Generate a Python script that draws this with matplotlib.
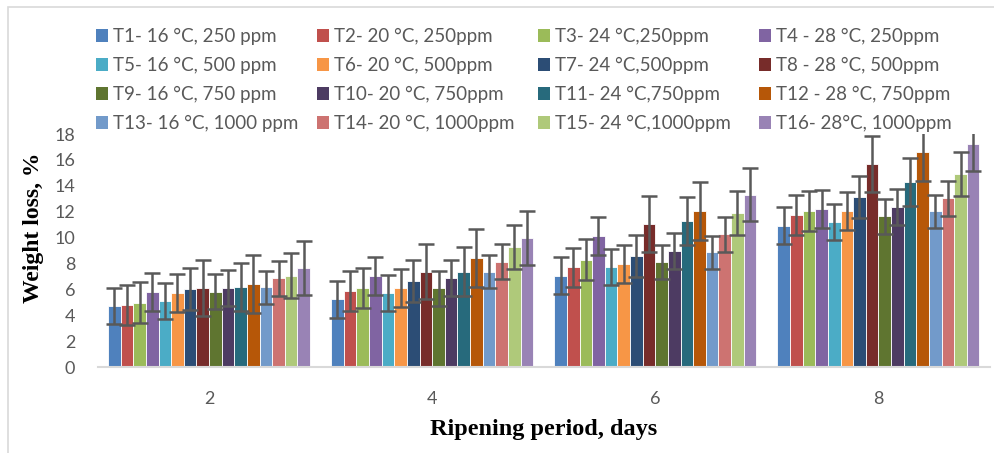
import matplotlib
matplotlib.use('Agg')
from matplotlib import pyplot as plt
from matplotlib.patches import Patch, Rectangle
import numpy as np

# ripening days (categories) and treatment labels
days = ['2', '4', '6', '8']
treatments = ['T1- 16 °C, 250 ppm', 'T2- 20 °C, 250ppm', 'T3- 24 °C,250ppm', 'T4 - 28 °C, 250ppm',
              'T5- 16 °C, 500 ppm', 'T6- 20 °C, 500ppm', 'T7- 24 °C,500ppm', 'T8 - 28 °C, 500ppm',
              'T9- 16 °C, 750 ppm', 'T10- 20 °C, 750ppm', 'T11- 24 °C,750ppm', 'T12 - 28 °C, 750ppm',
              'T13- 16 °C, 1000 ppm', 'T14- 20 °C, 1000ppm', 'T15- 24 °C,1000ppm', 'T16- 28°C, 1000ppm']
colors = ['#4F81BD', '#C0504D', '#9BBB59', '#8064A2', '#4BACC6', '#F79646', '#2C4D75', '#772C2A',
          '#5F7530', '#4D3B62', '#276A7C', '#B65708', '#729ACA', '#CD7371', '#AFC97A', '#9983B5']

# weight loss (%) per treatment for each day
day2 = [4.71, 4.79, 4.97, 5.82, 5.10, 5.69, 6.03, 6.10, 5.82, 6.08, 6.16, 6.44, 6.16, 6.85, 7.06, 7.63]
day4 = [5.23, 5.85, 6.10, 7.03, 5.69, 6.08, 6.65, 7.37, 6.10, 6.88, 7.37, 8.45, 7.37, 8.14, 9.25, 9.97]
day6 = [7.06, 7.70, 8.29, 10.12, 7.75, 7.96, 8.58, 11.05, 8.11, 8.94, 11.28, 12.06, 8.86, 10.26, 11.88, 13.32]
day8 = [10.92, 11.72, 12.06, 12.23, 11.23, 12.06, 13.11, 15.66, 11.65, 12.36, 14.27, 16.59, 12.03, 13.04, 14.91, 17.23]
# error (+/-) per treatment
err = [1.42, 1.53, 1.56, 1.46, 1.40, 1.47, 1.61, 2.15, 1.35, 1.40, 1.87, 2.24, 1.27, 1.36, 1.71, 2.07]

values = np.array([day2, day4, day6, day8])  # shape (days, treatments)

fig = plt.figure(figsize=(9.95, 4.53), dpi=100)
ax = fig.add_axes([97.5/995, 1 - 367/453, (990 - 97.5)/995, (367 - 134)/453])

n = len(treatments)
w = 0.0566
x = np.arange(len(days))
for i in range(n):
    ax.bar(x + (i - (n - 1)/2)*w, values[:, i], width=w, color=colors[i],
           edgecolor='white', linewidth=0.6, zorder=2)
    ax.errorbar(x + (i - (n - 1)/2)*w, values[:, i], yerr=err[i], fmt='none',
                ecolor='#595959', elinewidth=1.8, capsize=6, capthick=1.8, zorder=3)

ax.set_xlim(-0.5, len(days) - 0.5)
ax.set_ylim(0, 18)
ax.set_yticks(range(0, 19, 2))
ax.set_xticks(x)
ax.set_xticklabels(days)
for s in ['top', 'right', 'left']:
    ax.spines[s].set_visible(False)
ax.spines['bottom'].set_color('#d9d9d9')
ax.spines['bottom'].set_linewidth(1.5)
ax.tick_params(axis='both', length=0, labelsize=13, labelcolor='#595959')
ax.tick_params(axis='y', pad=16)
ax.tick_params(axis='x', pad=17)
for lab in ax.get_xticklabels() + ax.get_yticklabels():
    lab.set_fontfamily('Lato')

ax.set_ylabel('Weight loss, %', family='Liberation Serif', fontweight='bold', fontsize=17, va='center')
ax.yaxis.set_label_coords(-0.072, 0.597)
ax.set_xlabel('Ripening period, days', family='Liberation Serif', fontweight='bold', fontsize=17.5, va='center')
ax.xaxis.set_label_coords(0.5, -0.27)

# legend: 4 columns, filled row by row
col_x = [96, 317, 538, 759]
for c in range(4):
    idx = [c, c + 4, c + 8, c + 12]
    handles = [Patch(facecolor=colors[k], label=treatments[k]) for k in idx]
    fig.legend(handles=handles, loc='upper left', bbox_to_anchor=(col_x[c]/995, 1 - 28/453),
               frameon=False, borderpad=0, borderaxespad=0, handlelength=0.66, handleheight=0.66,
               handletextpad=0.25, labelspacing=0.64, prop={'family': 'Lato', 'size': 13.5},
               labelcolor='#595959')

# chart border
fig.patches.append(Rectangle((8/995, -0.1), 1.2, 1.1 - 7/453, transform=fig.transFigure,
                             fill=False, edgecolor='#d9d9d9', linewidth=1.2))

fig.savefig('out.png', dpi=100)
